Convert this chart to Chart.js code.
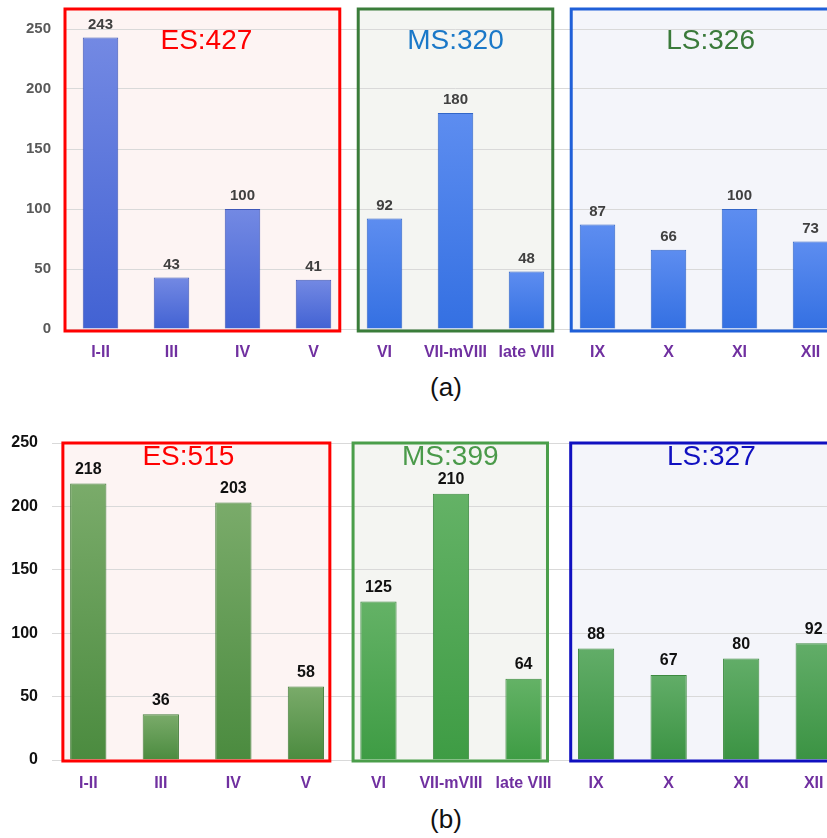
<!DOCTYPE html>
<html lang="en">
<head>
    <meta charset="UTF-8">
    <title>Counts by period</title>
    <script src="https://cdn.jsdelivr.net/npm/chart.js"></script>
    <style>
        body {
            margin: 0;
            padding: 0;
            background: #ffffff;
            width: 827px;
            height: 838px;
            overflow: hidden;
            position: relative;
            font-family: "Liberation Sans", Arial, sans-serif;
        }
        #chartA { position: absolute; left: 0; top: 0; }
        #chartB { position: absolute; left: 0; top: 400px; }
        .cap {
            position: absolute;
            width: 80px;
            text-align: center;
            font-size: 26px;
            color: #111;
        }
    </style>
</head>
<body>
    <canvas id="chartA" width="846" height="370"></canvas>
    <div class="cap" style="left:406px; top:372px;">(a)</div>
    <canvas id="chartB" width="850" height="400"></canvas>
    <div class="cap" style="left:406px; top:804px;">(b)</div>

    <script>
        // data
        let periods = ["I-II", "III", "IV", "V", "VI", "VII-mVIII", "late VIII", "IX", "X", "XI", "XII"];
        let countsA = [243, 43, 100, 41, 92, 180, 48, 87, 66, 100, 73];
        let countsB = [218, 36, 203, 58, 125, 210, 64, 88, 67, 80, 92];
        let groupNames = ["ES", "MS", "LS"];
        let groupSizes = [4, 3, 4];

        const FONT = "'Liberation Sans', Arial, sans-serif";

        function groupOf(i) {
            let n = 0;
            for (let g = 0; g < groupSizes.length; g++) {
                n += groupSizes[g];
                if (i < n) return g;
            }
            return groupSizes.length - 1;
        }

        function groupRanges(values) {
            let out = [], start = 0;
            groupSizes.forEach((size, g) => {
                let total = 0;
                for (let i = start; i < start + size; i++) total += values[i];
                out.push({ g: g, first: start, last: start + size - 1, total: total });
                start += size;
            });
            return out;
        }

        function boxRect(chart, r, st) {
            const x = chart.scales.x, area = chart.chartArea;
            const step = x.getPixelForValue(1) - x.getPixelForValue(0);
            let left = x.getPixelForValue(r.first) - step * (r.first === 0 ? st.firstLeft : st.left);
            let right = x.getPixelForValue(r.last) + step * st.right;
            if (r.g === groupSizes.length - 1) right = area.right + 10;
            return { left: left, right: right, top: area.top + st.boxTop, bottom: area.bottom + st.boxBottom };
        }

        const groupBoxes = {
            id: "groupBoxes",
            beforeDraw(chart, args, st) {
                const ctx = chart.ctx;
                ctx.save();
                groupRanges(chart.data.datasets[0].data).forEach(r => {
                    const b = boxRect(chart, r, st);
                    ctx.fillStyle = st.fill[r.g];
                    ctx.fillRect(b.left, b.top, b.right - b.left, b.bottom - b.top);
                });
                ctx.restore();
            },
            afterDatasetsDraw(chart, args, st) {
                const ctx = chart.ctx, area = chart.chartArea;
                const values = chart.data.datasets[0].data;
                ctx.save();
                groupRanges(values).forEach(r => {
                    const b = boxRect(chart, r, st);
                    ctx.strokeStyle = st.frame[r.g];
                    ctx.lineWidth = 3;
                    ctx.strokeRect(b.left, b.top, b.right - b.left, b.bottom - b.top);
                    ctx.fillStyle = st.title[r.g];
                    ctx.font = "28px " + FONT;
                    ctx.textAlign = "center";
                    ctx.textBaseline = "middle";
                    const cx = (b.left + Math.min(b.right, area.right)) / 2 + st.titleDx[r.g];
                    ctx.fillText(groupNames[r.g] + ":" + r.total, cx, area.top + st.titleY);
                });
                // value labels above the bars
                const meta = chart.getDatasetMeta(0);
                ctx.fillStyle = st.valueColor;
                ctx.font = "bold " + st.valueSize + "px " + FONT;
                ctx.textAlign = "center";
                ctx.textBaseline = "middle";
                meta.data.forEach((bar, i) => {
                    ctx.fillText(String(values[i]), bar.x, bar.y - st.valueGap);
                });
                ctx.restore();
            }
        };

        function barFill(st) {
            return function (c) {
                const chart = c.chart, area = chart.chartArea;
                const g = groupOf(c.dataIndex);
                if (!area || !chart.scales.y) return st.dark[g];
                const top = chart.scales.y.getPixelForValue(c.raw);
                const grad = chart.ctx.createLinearGradient(0, top, 0, area.bottom);
                grad.addColorStop(0, st.light[g]);
                grad.addColorStop(1, st.dark[g]);
                return grad;
            };
        }

        function makeChart(id, values, st) {
            return new Chart(document.getElementById(id), {
                type: "bar",
                data: {
                    labels: periods,
                    datasets: [{
                        data: values,
                        backgroundColor: barFill(st),
                        borderColor: c => st.edge[groupOf(c.dataIndex)],
                        borderWidth: 1,
                        barPercentage: 0.5,
                        categoryPercentage: 1
                    }]
                },
                options: {
                    responsive: false,
                    animation: false,
                    layout: { padding: { top: st.padTop, left: 0, right: 0, bottom: 0 } },
                    plugins: {
                        legend: { display: false },
                        tooltip: { enabled: false },
                        groupBoxes: st
                    },
                    scales: {
                        x: {
                            grid: { display: false, drawTicks: false },
                            border: { display: false },
                            ticks: {
                                color: "#7030a0",
                                font: { family: FONT, size: 16, weight: "bold" },
                                padding: 14,
                                autoSkip: false,
                                maxRotation: 0,
                                minRotation: 0
                            },
                            afterFit: s => { s.height = st.xHeight; }
                        },
                        y: {
                            min: 0,
                            max: 250,
                            grid: { color: "#d9d9d9", drawTicks: false },
                            border: { display: false },
                            ticks: {
                                stepSize: 50,
                                color: st.tickColor,
                                font: { family: FONT, size: st.tickSize, weight: "bold" },
                                padding: 14
                            },
                            afterFit: s => { s.width = st.yWidth; }
                        }
                    }
                },
                plugins: [groupBoxes]
            });
        }

        makeChart("chartA", countsA, {
            padTop: 29, xHeight: 41, yWidth: 65,
            tickColor: "#595959", tickSize: 15,
            valueColor: "#404040", valueSize: 15, valueGap: 13,
            boxTop: -20, boxBottom: 2, firstLeft: 0.5, left: 0.37, right: 0.37, titleY: 12,
            titleDx: [4, 0, 2],
            frame: ["#ff0000", "#3a7d3a", "#1f5fd8"],
            fill: ["#fdf4f3", "#f4f5f2", "#f4f5fa"],
            title: ["#ff0000", "#1a78c8", "#3a7a3a"],
            light: ["#7389e3", "#5d8df0", "#5d8df0"],
            dark: ["#4262d3", "#3470e2", "#3470e2"],
            edge: ["#3f58b8", "#3266c8", "#3266c8"]
        });

        makeChart("chartB", countsB, {
            padTop: 43, xHeight: 40, yWidth: 52,
            tickColor: "#111111", tickSize: 16,
            valueColor: "#111111", valueSize: 16, valueGap: 14,
            boxTop: 0, boxBottom: 1, firstLeft: 0.35, left: 0.35, right: 0.33, titleY: 14,
            titleDx: [-8, 0, 1],
            frame: ["#ff0000", "#4a9e4a", "#1010c0"],
            fill: ["#fdf4f3", "#f4f5f2", "#f4f5fa"],
            title: ["#ff0000", "#4a9a4a", "#1010c0"],
            light: ["#7aab6a", "#64b266", "#62ad68"],
            dark: ["#4b8b3f", "#3e9c44", "#3b9343"],
            edge: ["#467f3c", "#3d8a40", "#3d8a40"]
        });
    </script>
</body>
</html>
